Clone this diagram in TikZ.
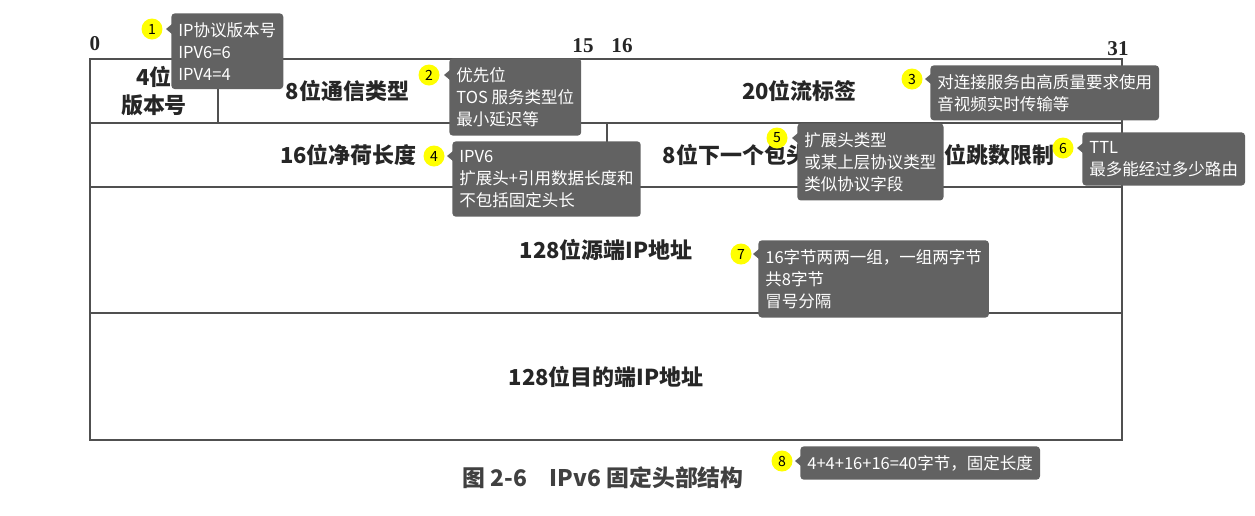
\documentclass[tikz,border=0pt]{standalone}
\usepackage{fontspec}
\usepackage{tikz}
\usetikzlibrary{positioning, calc}
\newfontfamily\cjk{Noto Sans CJK SC}
\newfontfamily\numfont{Liberation Serif}
\definecolor{tipgray}{HTML}{626262}
\definecolor{badgeyellow}{HTML}{FFFF00}
\definecolor{gridgray}{HTML}{505050}

\begin{document}
\begin{tikzpicture}[
  x=0.02cm, y=-0.02cm,
  field/.style={draw=gridgray, line width=0.9pt, inner sep=0pt, align=center,
                font=\cjk\bfseries\fontsize{12.5}{16}\selectfont, text=black!85},
  bitno/.style={font=\numfont\bfseries\fontsize{12}{14}\selectfont, text=black!85},
  note/.style={fill=tipgray, rounded corners=2pt, text=white, align=left, anchor=north west,
               inner xsep=4pt, inner ysep=5pt, font=\cjk\fontsize{9.4}{12.6}\selectfont},
  badge/.style={circle, fill=badgeyellow, minimum size=0.42cm, inner sep=0pt,
                font=\cjk\fontsize{8}{9}\selectfont}
]
  \useasboundingbox (0,0) rectangle (1255,515);

  % Bit numbers
  \node[bitno] (bit0) at (95,44) {0};
  \node[bitno] (bit15) at (583,46) {15};
  \node[bitno] (bit16) at (622,46) {16};
  \node[bitno] (bit31) at (1118,49) {31};

  % First row
  \node[field, minimum width=2.56cm, minimum height=1.28cm] (ver) at (154,91) {4位\\版本号};
  \node[field, minimum width=5.18cm, minimum height=1.28cm] (tc) at (347.5,91) {8位通信类型};
  \node[field, minimum width=12.9cm, minimum height=1.28cm] (fl) at (799.5,91) {20位流标签};

  % Second row
  \node[field, minimum width=10.34cm, minimum height=1.28cm] (plen) at (348.5,155) {16位净荷长度};
  \node[field, minimum width=5.14cm, minimum height=1.28cm] (nh) at (735.5,155) {8位下一个包头};
  \node[field, minimum width=5.16cm, minimum height=1.28cm] (hop) at (993,155) {8位跳数限制};

  % Addresses
  \node[field, minimum width=20.64cm, minimum height=2.52cm] (src) at (606,250) {128位源端IP地址};
  \node[field, minimum width=20.64cm, minimum height=2.54cm] (dst) at (606,376.5) {128位目的端IP地址};

  % Caption
  \node[font=\cjk\bfseries\fontsize{13}{15}\selectfont, text=black!75] (cap) at (603,478) {图 2-6\quad IPv6 固定头部结构};

  % Notes
  \node[badge] (b1) at (152,29) {1};
  \node[note] (n1) at (171,13) {IP协议版本号\\IPV6=6\\IPV4=4};
  \node[badge] (b2) at (429,75) {2};
  \node[note] (n2) at (449,58) {优先位\\TOS 服务类型位\\最小延迟等};
  \node[badge] (b3) at (912,79) {3};
  \node[note] (n3) at (930,65) {对连接服务由高质量要求使用\\音视频实时传输等};
  \node[badge] (b4) at (434,156) {4};
  \node[note] (n4) at (452,141) {IPV6\\扩展头+引用数据长度和\\不包括固定头长};
  \node[badge] (b5) at (777,138) {5};
  \node[note] (n5) at (797,123) {扩展头类型\\或某上层协议类型\\类似协议字段};
  \node[badge] (b6) at (1063,148) {6};
  \node[note] (n6) at (1082,132) {TTL\\最多能经过多少路由};
  \node[badge] (b7) at (741,254) {7};
  \node[note] (n7) at (758,240) {16字节两两一组，一组两字节\\共8字节\\冒号分隔};
  \node[badge] (b8) at (782,461) {8};
  \node[note] (n8) at (800,446) {4+4+16+16=40字节，固定长度};

  % Pointers
  \foreach \i in {1,...,8}
    \fill[tipgray] ($(n\i.west |- b\i)+(1,-5)$) -- ++(-6,5) -- ++(6,5) -- cycle;
\end{tikzpicture}
\end{document}
